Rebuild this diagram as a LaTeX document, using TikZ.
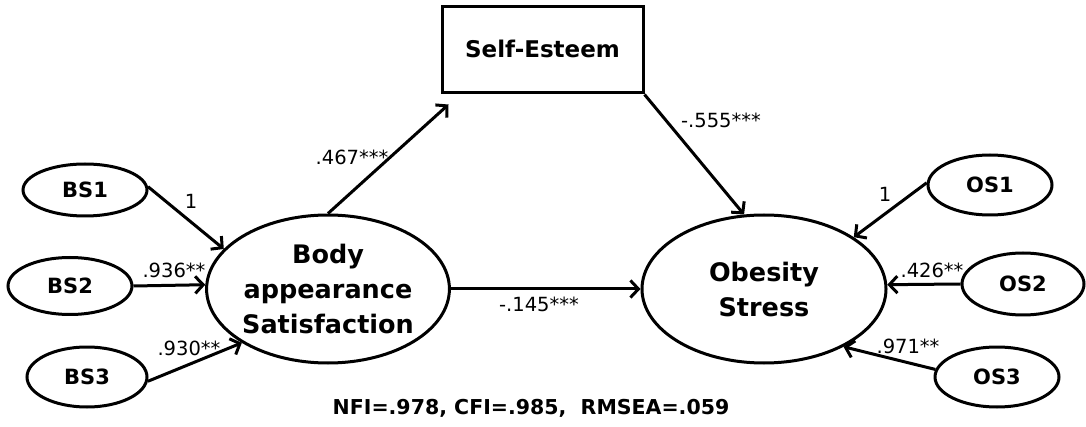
\documentclass[tikz,border=0pt]{standalone}
\usepackage{fontspec}
\setmainfont{DejaVu Sans}
\usetikzlibrary{arrows.meta,shapes.geometric,calc}
\begin{document}
\begin{tikzpicture}[x=1pt,y=-1pt,
  lat/.style={draw,ellipse,line width=3pt,inner sep=0pt,align=center,font=\fontsize{25.5}{35}\selectfont\bfseries},
  ind/.style={draw,ellipse,line width=3pt,inner sep=0pt,font=\fontsize{21}{26}\selectfont\bfseries},
  path/.style={line width=3pt,-{Straight Barb[length=8pt,width=17pt,line width=3pt]}},
  coef/.style={anchor=base,inner sep=0pt,font=\fontsize{19.5}{24}\selectfont}]
\useasboundingbox (0,0) rectangle (1086,427);
\node[draw,line width=3pt,minimum width=201pt,minimum height=86pt,inner sep=0pt,font=\fontsize{23}{30}\selectfont\bfseries] (se) at (542.5,50) {\raisebox{3pt}{Self-Esteem}};
\node[lat,minimum width=242pt,minimum height=148pt] (body) at (328,289) {Body\\appearance\\Satisfaction};
\node[lat,minimum width=244pt,minimum height=148pt] (obes) at (764,289) {Obesity\\Stress};
\node[ind,minimum width=124pt,minimum height=52pt] (bs1) at (85,190) {BS1};
\node[ind,minimum width=124pt,minimum height=57pt] (bs2) at (70,286) {BS2};
\node[ind,minimum width=120pt,minimum height=60pt] (bs3) at (87,377) {BS3};
\node[ind,minimum width=124pt,minimum height=60pt] (os1) at (990,185) {OS1};
\node[ind,minimum width=122pt,minimum height=62pt] (os2) at (1023,284) {OS2};
\node[ind,minimum width=124pt,minimum height=60pt] (os3) at (997,377) {OS3};
\coordinate (seend) at ($(se.south west)+(8,10)$);
\draw[path] (bs1.3) -- (body.159);
\draw[path] (bs2.0) -- (body.178);
\draw[path] (bs3.-4) -- (body.212);
\draw[path] (body.90) -- (seend);
\draw[path] (se.south east) -- (obes.105);
\draw[path] (body.east) -- (body.east -| obes.west);
\draw[path] (os1.178) -- (obes.30);
\draw[path] (os2.180) -- (obes.2);
\draw[path] (os3.173) -- (obes.-36);
\node[coef] (l1) at (191,209) {1};
\node[coef] (l2) at (174,278) {.936**};
\node[coef] (l3) at (189,355) {.930**};
\node[coef] (l4) at (352,165) {.467***};
\node[coef] (l5) at (721,128) {-.555***};
\node[coef] (l6) at (539,312) {-.145***};
\node[coef] (l7) at (885,202) {1};
\node[coef] (l8) at (932,278) {.426**};
\node[coef] (l9) at (908,353) {.971**};
\node[coef,font=\fontsize{20.5}{24}\selectfont\bfseries] (fit) at (531,414) {NFI=.978, CFI=.985,\ \ RMSEA=.059};
\end{tikzpicture}
\end{document}
